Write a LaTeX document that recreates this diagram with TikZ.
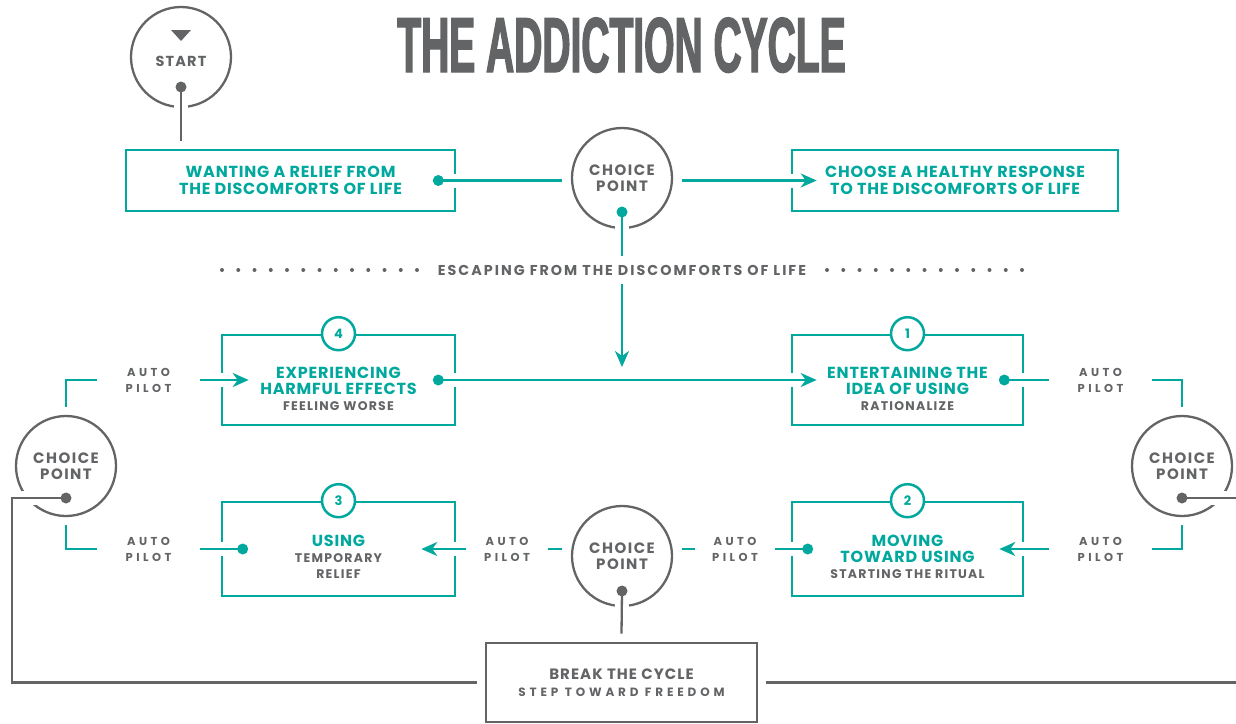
\documentclass[tikz,border=0pt]{standalone}
\usepackage{fontspec}
\setmainfont{Poppins}
\newfontfamily\titlefont{Liberation Sans}[FakeStretch=0.5,FakeBold=1.6]
\usetikzlibrary{arrows.meta,calc,positioning}

\definecolor{cycleteal}{RGB}{0,168,157}
\definecolor{cyclegray}{RGB}{99,100,102}

% grey second line inside a stage box
\newcommand{\subline}[1]{{\color{cyclegray}\fontsize{12.5}{16}\selectfont\addfontfeature{LetterSpace=10}#1}}

\begin{document}
\begin{tikzpicture}[x=1pt,y=-1pt,
  stage/.style={draw=cycleteal,line width=2.6pt,inner sep=0pt,align=center,text=cycleteal,
    font=\bfseries\fontsize{16}{17}\selectfont\addfontfeature{LetterSpace=5}},
  stagetext/.style={inner sep=0pt,align=center,text=cycleteal,font=\bfseries\fontsize{16}{16}\selectfont\addfontfeature{LetterSpace=5}},
  num/.style={circle,draw=cycleteal,fill=white,line width=2.5pt,minimum size=33pt,inner sep=0pt,
    text=cycleteal,font=\bfseries\fontsize{13}{13}\selectfont},
  choice/.style={circle,draw=cyclegray,line width=2.3pt,minimum size=100pt,inner sep=0pt,align=center,
    text=cyclegray,font=\bfseries\fontsize{15}{16}\selectfont\addfontfeature{LetterSpace=10}},
  autopilot/.style={minimum width=#1,inner sep=0pt,align=center,text=cyclegray,
    font=\bfseries\fontsize{11.5}{16}\selectfont\addfontfeature{LetterSpace=30}},
  link/.style={cycleteal,line width=2.3pt,preaction={draw=white,line width=14pt,-}},
  greylink/.style={cyclegray,line width=2.3pt,preaction={draw=white,line width=14pt,-}},
  bracket/.style={cycleteal,line width=2.3pt},
  arrowed/.style={-{Stealth[length=16pt,width=14pt,inset=5pt]}}]
\useasboundingbox (0,0) rectangle (1236,723);

% Title
\node[anchor=base,text=cyclegray,font=\titlefont\bfseries\fontsize{78}{78}\selectfont] (title) at (621.5,72) {THE ADDICTION CYCLE};

% Start circle with its little triangle
\node[choice] (start) at (181,57) {};
\node[text=cyclegray,font=\bfseries\fontsize{14.5}{14}\selectfont\addfontfeature{LetterSpace=8}] (starttext) at ($(start)+(0,4)$) {START};
\fill[cyclegray] ($(start)+(-10,-27)$) -- ++(20,0) -- ++(-10,11) -- cycle;

% Top row
\node[stage,minimum width=329pt,minimum height=61pt] (boxA) at (290.5,180.5) {WANTING A RELIEF FROM\\THE DISCOMFORTS OF LIFE};
\node[choice] (cpT) at (622,178) {CHOICE\\POINT};
\node[stage,minimum width=326pt,minimum height=61pt] (boxB) at (955,180.5) {CHOOSE A HEALTHY RESPONSE\\TO THE DISCOMFORTS OF LIFE};

% Dotted divider
\node[text=cyclegray,minimum height=28pt,inner sep=0pt,font=\bfseries\fontsize{14.3}{14}\selectfont\addfontfeature{LetterSpace=14}] (escape) at (622,270) {ESCAPING FROM THE DISCOMFORTS OF LIFE};
\foreach \i in {0,...,12} {
  \fill[cyclegray] (222+\i*16.25,270) circle[radius=2pt];
  \fill[cyclegray] (1022-\i*16.25,270) circle[radius=2pt];
}

% The four stages
\node[stage,minimum width=233pt,minimum height=90pt] (box4) at (338.5,380) {};
\node[stagetext] (t4) at (338.5,389) {EXPERIENCING\\HARMFUL EFFECTS\\\subline{FEELING WORSE}};
\node[stage,minimum width=231pt,minimum height=90pt] (box1) at (907.5,380) {};
\node[stagetext] (t1) at (907.5,389) {ENTERTAINING THE\\IDEA OF USING\\\subline{RATIONALIZE}};
\node[stage,minimum width=233pt,minimum height=94pt] (box3) at (338.5,549) {};
\node[stagetext] (t3) at (338.5,557) {USING\\\subline{TEMPORARY}\\\subline{RELIEF}};
\node[stage,minimum width=231pt,minimum height=94pt] (box2) at (907.5,549) {};
\node[stagetext] (t2) at (907.5,557) {MOVING\\TOWARD USING\\\subline{STARTING THE RITUAL}};
\node[num] (n4) at (box4.north) {4};
\node[num] (n1) at (box1.north) {1};
\node[num] (n3) at (box3.north) {3};
\node[num] (n2) at (box2.north) {2};

% Choice points round the cycle
\node[choice] (cpL) at (66,466) {CHOICE\\POINT};
\node[choice] (cpR) at (1182,466) {CHOICE\\POINT};
\node[choice] (cpB) at (622,556) {CHOICE\\POINT};

% Auto pilot labels
\node[autopilot=102pt] (apL1) at (148.5,380) {AUTO\\PILOT};
\node[autopilot=102pt] (apL2) at (148.5,549) {AUTO\\PILOT};
\node[autopilot=102pt] (apR1) at (1100.5,380) {AUTO\\PILOT};
\node[autopilot=102pt] (apR2) at (1100.5,549) {AUTO\\PILOT};
\node[autopilot=82pt] (apM1) at (507,549) {AUTO\\PILOT};
\node[autopilot=80pt] (apM2) at (735,549) {AUTO\\PILOT};

% Way out
\node[stage,draw=cyclegray,text=cyclegray,minimum width=271pt,minimum height=79pt,font=\bfseries\fontsize{15}{17}\selectfont\addfontfeature{LetterSpace=7}] (brk) at (621.5,682.5)
  {BREAK THE CYCLE\\{\fontsize{12}{17}\selectfont\addfontfeature{LetterSpace=32}STEP TOWARD FREEDOM}};

% Dot and arrow ends
\coordinate (dotS) at ($(start)+(0,30)$);
\coordinate (dotA) at ($(boxA.east)+(-18,0)$);
\coordinate (dotT) at ($(cpT)+(0,34)$);
\coordinate (inB) at ($(boxB.west)+(26,0)$);
\coordinate (down) at (622,367);
\coordinate (dot4) at ($(box4.east)+(-18,0)$);
\coordinate (in4) at ($(box4.west)+(28,0)$);
\coordinate (dot1) at ($(box1.east)+(-20,0)$);
\coordinate (in1) at ($(box1.west)+(26,0)$);
\coordinate (dot2) at ($(box2.west)+(17,0)$);
\coordinate (in2) at ($(box2.east)+(-25,0)$);
\coordinate (dot3) at ($(box3.west)+(22,0)$);
\coordinate (in3) at ($(box3.east)+(-35,0)$);
\coordinate (dotL) at ($(cpL)+(0,32)$);
\coordinate (dotR) at ($(cpR)+(0,32)$);
\coordinate (dotB) at ($(cpB)+(0,35)$);

% Grey connectors
\draw[greylink] (dotS) -- ($(dotS |- boxA.north)+(0,-8)$);
\draw[greylink] (dotB) -- ([yshift=8pt]brk.north);
\draw[greylink] (dotL) -- ++(-54,0) |- ([xshift=-8pt]brk.west);
\draw[greylink] (dotR) -- ++(63,0) |- ([xshift=8pt]brk.east);

% Teal connectors
\draw[link] (dotA) -- ($(dotA -| cpT.west)+(-9,0)$);
\draw[link,arrowed] ($(inB -| cpT.east)+(9,0)$) -- (inB);
\draw[link] (dotT) -- (escape.north);
\draw[link,arrowed] (escape.south) -- (down);
\draw[link,arrowed] (dot4) -- (in1);
\draw[link] (dot1) -- (apR1.west);
\draw[link,arrowed] (apR2.west) -- (in2);
\draw[link] (dot2) -- (apM2.east);
\draw[link] ($(apM2.west -| cpB.east)+(9,0)$) -- (apM2.west);
\draw[link] ($(apM1.east -| cpB.west)+(-9,0)$) -- (apM1.east);
\draw[link,arrowed] (apM1.west) -- (in3);
\draw[link] (dot3) -- (apL2.east);
\draw[link,arrowed] (apL1.east) -- (in4);

% Brackets round the side choice points
\draw[bracket] (apL1.west) -| ([yshift=8pt]cpL.north);
\draw[bracket] ([yshift=-8pt]cpL.south) |- (apL2.west);
\draw[bracket] (apR1.east) -| ([yshift=8pt]cpR.north);
\draw[bracket] ([yshift=-8pt]cpR.south) |- (apR2.east);

% Dots
\foreach \d in {dotA,dotT,dot4,dot1,dot2,dot3}
  \fill[cycleteal] (\d) circle[radius=5.5pt];
\foreach \d in {dotS,dotL,dotR,dotB}
  \fill[cyclegray] (\d) circle[radius=5.5pt];
\end{tikzpicture}
\end{document}
